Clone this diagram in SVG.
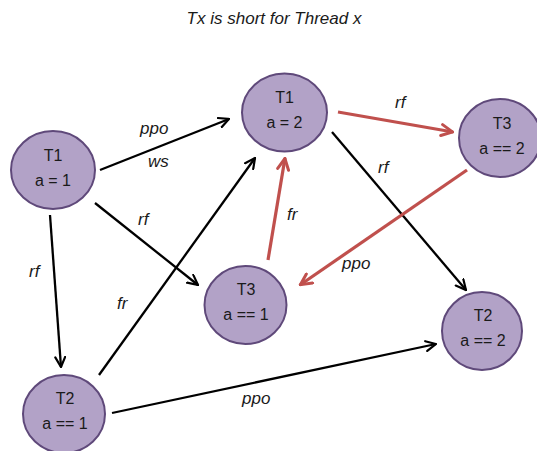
<svg xmlns="http://www.w3.org/2000/svg" width="537" height="451" viewBox="0 0 537 451">
  <defs>
    <style>
      .node ellipse { fill: #b2a2c7; stroke: #5f497a; stroke-width: 2; }
      .node text { font-family: "Liberation Sans", Arial, sans-serif; font-size: 16px; fill: #1a1a1a; text-anchor: middle; }
      .lbl { font-family: "Liberation Sans", Arial, sans-serif; font-size: 17px; font-style: italic; fill: #1a1a1a; }
      .title { font-family: "Liberation Sans", Arial, sans-serif; font-size: 17px; font-style: italic; fill: #1a1a1a; text-anchor: middle; }
      .blk { stroke: #000; stroke-width: 2.3; fill: none; marker-end: url(#headBlack); }
      .red { stroke: #c0504d; stroke-width: 3.2; fill: none; marker-end: url(#headRed); }
    </style>
    <marker id="headBlack" viewBox="0 0 12 12" refX="11" refY="6" markerWidth="12" markerHeight="12" markerUnits="userSpaceOnUse" orient="auto">
      <path d="M1,1 L11,6 L1,11" fill="none" stroke="#000" stroke-width="2.2" stroke-linecap="round" stroke-linejoin="miter"/>
    </marker>
    <marker id="headRed" viewBox="0 0 14 14" refX="13" refY="7" markerWidth="14" markerHeight="14" markerUnits="userSpaceOnUse" orient="auto">
      <path d="M1.5,1.5 L12.5,7 L1.5,12.5" fill="none" stroke="#c0504d" stroke-width="3" stroke-linecap="round" stroke-linejoin="miter"/>
    </marker>
  </defs>

  <rect width="537" height="451" fill="#ffffff"/>

  <text class="title" x="274" y="24">Tx is short for Thread x</text>

  <!-- connectors -->
  <g id="edges">
    <line class="blk" x1="100" y1="170" x2="229" y2="119"/>
    <line class="blk" x1="95" y1="203" x2="198" y2="285"/>
    <line class="blk" x1="50" y1="215" x2="61" y2="367"/>
    <line class="blk" x1="99" y1="375" x2="255" y2="158"/>
    <line class="blk" x1="112" y1="413" x2="436" y2="344"/>
    <line class="blk" x1="332" y1="132" x2="466" y2="290"/>
    <line class="red" x1="338" y1="112" x2="453" y2="132"/>
    <line class="red" x1="467" y1="170" x2="300" y2="285"/>
    <line class="red" x1="268" y1="260" x2="285" y2="158"/>
  </g>

  <!-- edge labels -->
  <g id="edge-labels">
    <text class="lbl" x="140" y="134">ppo</text>
    <text class="lbl" x="148" y="167">ws</text>
    <text class="lbl" x="138" y="225">rf</text>
    <text class="lbl" x="29" y="277">rf</text>
    <text class="lbl" x="117" y="309">fr</text>
    <text class="lbl" x="242" y="404">ppo</text>
    <text class="lbl" x="342" y="269">ppo</text>
    <text class="lbl" x="395" y="108">rf</text>
    <text class="lbl" x="378" y="173">rf</text>
    <text class="lbl" x="287" y="220">fr</text>
  </g>

  <g id="n-t1-a1" class="node">
    <ellipse cx="53" cy="170" rx="42" ry="39"/>
    <text x="53" y="161">T1</text>
    <text x="53" y="186">a = 1</text>
  </g>
  <g id="n-t1-a2" class="node">
    <ellipse cx="284.5" cy="112.5" rx="42.5" ry="39"/>
    <text x="284.5" y="103">T1</text>
    <text x="284.5" y="128">a = 2</text>
  </g>
  <g id="n-t3-a2" class="node">
    <ellipse cx="500" cy="138" rx="41" ry="39"/>
    <text x="502" y="129">T3</text>
    <text x="502" y="154">a == 2</text>
  </g>
  <g id="n-t3-a1" class="node">
    <ellipse cx="245.5" cy="305" rx="41" ry="39"/>
    <text x="246" y="295">T3</text>
    <text x="246" y="320">a == 1</text>
  </g>
  <g id="n-t2-a2" class="node">
    <ellipse cx="482" cy="331" rx="40" ry="39"/>
    <text x="483" y="321">T2</text>
    <text x="483" y="346">a == 2</text>
  </g>
  <g id="n-t2-a1" class="node">
    <ellipse cx="64" cy="414" rx="41" ry="39"/>
    <text x="65" y="404">T2</text>
    <text x="65" y="429">a == 1</text>
  </g>
</svg>
